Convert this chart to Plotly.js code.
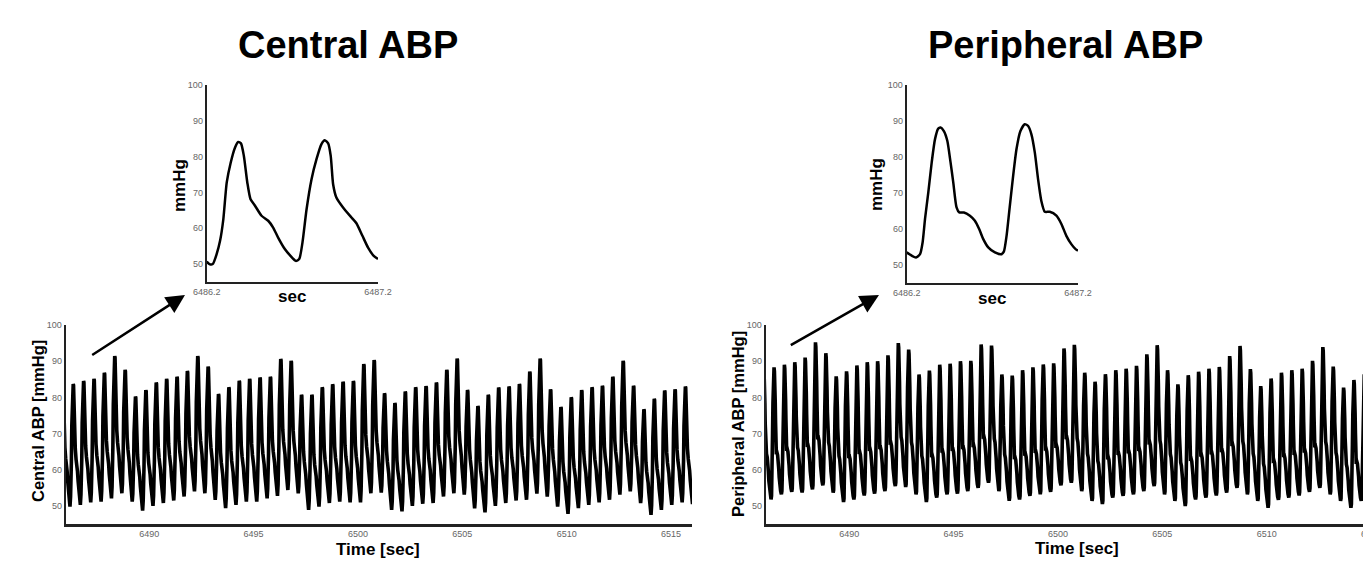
<!DOCTYPE html>
<html><head><meta charset="utf-8">
<script src="https://cdn.plot.ly/plotly-3.0.1.min.js"></script>
<style>html,body{margin:0;padding:0;overflow:hidden;background:#fff}#chart{width:1400px;height:567px}</style>
</head><body><div id="chart"></div>
<script>
// ---------- data ----------
// Insets: one second of waveform (time [sec], pressure [mmHg])
const centralInsetTime = [6486.200,6486.216,6486.235,6486.258,6486.278,6486.297,6486.317,6486.340,6486.365,6486.384,6486.400,6486.417,6486.437,6486.456,6486.482,6486.520,6486.559,6486.588,6486.617,6486.656,6486.689,6486.720,6486.740,6486.759,6486.783,6486.812,6486.841,6486.870,6486.889,6486.909,6486.924,6486.938,6486.957,6486.996,6487.045,6487.074,6487.109,6487.142,6487.175,6487.200];
const centralInsetABP  = [50.7,50.0,50.0,52.8,56.5,62.5,72.8,78.3,82.5,84.1,83.7,80.2,72.8,68.1,66.3,63.5,62.1,60.2,57.4,54.2,52.3,50.9,51.4,56.0,65.3,73.7,79.3,83.5,84.6,83.7,80.2,72.3,68.6,65.8,63.0,61.4,57.9,54.6,52.3,51.4];
const periInsetTime = [6486.200,6486.229,6486.254,6486.278,6486.293,6486.307,6486.326,6486.346,6486.365,6486.384,6486.398,6486.417,6486.437,6486.456,6486.472,6486.491,6486.507,6486.534,6486.569,6486.598,6486.623,6486.647,6486.676,6486.715,6486.753,6486.767,6486.783,6486.798,6486.817,6486.841,6486.864,6486.889,6486.909,6486.928,6486.948,6486.967,6486.986,6487.006,6487.035,6487.074,6487.103,6487.132,6487.161,6487.186,6487.200];
const periInsetABP  = [53.5,52.6,52.1,53.0,56.3,62.8,70.1,78.5,84.9,87.9,88.2,87.2,84.5,78.5,72.9,66.0,64.6,64.6,63.7,62.3,60.0,57.2,54.9,53.5,53.0,53.7,58.1,64.6,72.9,82.2,87.2,89.1,88.6,86.3,81.2,73.8,67.8,64.8,64.8,63.7,61.4,58.1,55.8,54.4,54.0];

// Beat shape (fraction of beat, normalised level) taken from one inset beat
const centralBeatPhase = [0,0.057,0.097,0.135,0.176,0.222,0.273,0.311,0.343,0.378,0.418,0.457,0.509,0.586,0.665,0.723,0.782,0.861,0.927,1];
const centralBeatShape = [0,0.08,0.19,0.36,0.66,0.82,0.95,1,0.99,0.88,0.66,0.52,0.47,0.38,0.34,0.28,0.2,0.1,0.04,0];
const periBeatPhase = [0,0.048,0.078,0.106,0.144,0.184,0.222,0.261,0.289,0.327,0.367,0.405,0.437,0.475,0.507,0.561,0.631,0.689,0.739,0.788,0.846,0.924,1];
const periBeatShape = [0,0.025,0.115,0.295,0.495,0.73,0.91,0.99,1,0.97,0.895,0.73,0.575,0.385,0.345,0.345,0.32,0.28,0.215,0.14,0.075,0.03,0];

// Main records: beat timing and per-beat systolic / diastolic values [mmHg]
const centralFirstBeat = 6486.205, centralBeatPeriod = 0.497;
const centralSystolic = [84,
  83.7,84.5,85.1,86.8,91.4,87.6,80.2,82.0,84.1,85.1,85.7,87.3,91.4,88.5,80.9,82.8,84.6,85.1,85.5,85.7,90.6,90.1,80.7,80.7,82.8,83.6,
  84.3,84.5,89.2,90.3,81.1,78.4,81.6,82.8,83.1,84.1,87.6,90.7,82.0,77.6,80.7,82.7,83.0,83.7,87.1,90.7,82.2,77.3,80.0,82.0,82.8,83.2,85.7,90.1,83.2,76.7,79.6,81.9,82.2,83.0];
const centralDiastolic = [51,
  49.8,50.3,51.0,51.2,52.1,53.5,51.2,48.7,50.0,50.8,51.5,52.6,54.0,53.5,51.7,49.4,50.3,51.2,51.2,52.1,52.8,54.4,53.5,48.9,49.8,50.8,51.2,51.0,
  51.0,53.5,53.7,48.9,48.5,50.0,50.6,50.8,52.6,53.5,53.1,49.3,48.2,50.0,50.8,51.5,51.7,53.4,52.6,49.8,47.8,49.4,50.3,51.0,51.7,53.1,54.0,50.8,47.5,48.9,50.3,51.0,
  50.5];
const periFirstBeat = 6486.256, periBeatPeriod = 0.496;
const periSystolic = [88,
  88.3,89.0,89.7,91.0,95.2,92.2,85.8,87.2,88.8,89.7,90.0,91.6,95.0,93.2,86.3,87.4,89.0,89.3,90.0,90.1,94.6,94.3,86.3,86.0,87.5,88.3,
  89.1,89.4,93.5,94.5,86.8,84.3,86.4,87.5,87.9,88.7,91.9,94.4,87.5,83.6,86.1,87.1,87.9,88.4,91.4,94.2,87.8,83.1,85.2,86.8,87.5,87.9,90.1,93.9,88.5,82.7,84.8,86.4,
  87.0,87.5];
const periDiastolic = [52,
  51.8,53.2,53.9,53.7,54.6,55.7,53.7,51.1,51.8,52.9,53.4,54.1,55.5,55.2,53.2,51.1,52.3,53.2,53.4,54.1,55.0,56.4,54.1,51.4,51.8,52.8,
  53.2,53.9,55.7,56.4,54.1,51.4,50.5,52.3,52.8,53.2,54.1,55.5,53.2,51.4,50.0,51.8,52.3,52.9,53.7,55.0,53.2,51.4,49.5,51.7,52.3,52.9,53.9,55.0,53.2,51.4,49.5,51.4,
  52.5,53.0,53.5];

const mainYTicks = [50,60,70,80,90,100];
const mainXTicks = [6490,6495,6500,6505,6510,6515];
const insetXTicks = [6486.2,6487.2];
const insetXLabels = ['6486.2','6487.2'];

// ---------- build records from the beat values ----------
function buildRecord(first, period, sys, dia, phase, shape){
  const t=[], y=[];
  for(let i=0;i<sys.length;i++){
    const t0 = first + (i-1)*period;
    for(let k=0;k<phase.length;k++){
      if(k===phase.length-1 && i<sys.length-1) continue;
      const base = dia[i] + (dia[i+1]-dia[i])*phase[k];
      t.push(t0 + phase[k]*period);
      y.push(base + (sys[i]-base)*shape[k]);
    }
  }
  return {t, y};
}
const central = buildRecord(centralFirstBeat, centralBeatPeriod, centralSystolic, centralDiastolic, centralBeatPhase, centralBeatShape);
const peri = buildRecord(periFirstBeat, periBeatPeriod, periSystolic, periDiastolic, periBeatPhase, periBeatShape);

// ---------- layout ----------
const W = 1400, H = 567;
const px = v => v / W, py = v => 1 - v / H;
const FONT = 'Liberation Sans, Arial, Helvetica, sans-serif';
const tickFont = {family: FONT, size: 9, color: '#666'};

const traces = [
  {x: central.t, y: central.y, xaxis:'x', yaxis:'y', mode:'lines', line:{color:'#000', width:3.6}, hoverinfo:'skip'},
  {x: peri.t, y: peri.y, xaxis:'x2', yaxis:'y2', mode:'lines', line:{color:'#000', width:3.6}, hoverinfo:'skip'},
  {x: centralInsetTime, y: centralInsetABP, xaxis:'x3', yaxis:'y3', mode:'lines', line:{color:'#000', width:2.5, shape:'spline', smoothing:0.6}, hoverinfo:'skip'},
  {x: periInsetTime, y: periInsetABP, xaxis:'x4', yaxis:'y4', mode:'lines', line:{color:'#000', width:2.5, shape:'spline', smoothing:0.6}, hoverinfo:'skip'}
];

function xax(domain, range, tickvals, ticktext, lw){
  const a = {domain, range, tickvals, showgrid:false, zeroline:false, showline:true, linecolor:'#222', linewidth:lw,
    ticks:'', tickfont:tickFont, fixedrange:true};
  if(ticktext) a.ticktext = ticktext;
  return a;
}
function yax(domain, lw){
  return {domain, range:[45,100], tickvals: mainYTicks, showgrid:false, zeroline:false, showline:true, linecolor:'#222',
    linewidth:lw, ticks:'', tickfont:tickFont, fixedrange:true};
}

const layout = {
  width: W, height: H, margin:{l:0,r:0,t:0,b:0}, paper_bgcolor:'#fff', plot_bgcolor:'rgba(0,0,0,0)', showlegend:false,
  xaxis: Object.assign(xax([px(65.7), px(692)], [6486, 6516], mainXTicks, null, 2.5), {anchor:'y'}),
  yaxis: Object.assign(yax([py(524), py(325)], 2), {anchor:'x'}),
  xaxis2: Object.assign(xax([px(765.7), px(1392)], [6486, 6516], mainXTicks, null, 2.5), {anchor:'y2'}),
  yaxis2: Object.assign(yax([py(524), py(325)], 2), {anchor:'x2'}),
  xaxis3: Object.assign(xax([px(206.7), px(378)], [6486.2, 6487.2], insetXTicks, insetXLabels, 2), {anchor:'y3'}),
  yaxis3: Object.assign(yax([py(282), py(85)], 2), {anchor:'x3'}),
  xaxis4: Object.assign(xax([px(906.7), px(1078)], [6486.2, 6487.2], insetXTicks, insetXLabels, 2), {anchor:'y4'}),
  yaxis4: Object.assign(yax([py(283), py(85)], 2), {anchor:'x4'}),
  annotations: [
    {text:'<b>Central ABP</b>', x:px(348), y:py(45), xref:'paper', yref:'paper', showarrow:false, xanchor:'center', yanchor:'middle', font:{family:FONT, size:38, color:'#000'}},
    {text:'<b>Peripheral ABP</b>', x:px(1065), y:py(45), xref:'paper', yref:'paper', showarrow:false, xanchor:'center', yanchor:'middle', font:{family:FONT, size:38, color:'#000'}},
    {text:'<b>Time [sec]</b>', x:px(378), y:py(549), xref:'paper', yref:'paper', showarrow:false, xanchor:'center', yanchor:'middle', font:{family:FONT, size:17, color:'#000'}},
    {text:'<b>Time [sec]</b>', x:px(1077), y:py(548), xref:'paper', yref:'paper', showarrow:false, xanchor:'center', yanchor:'middle', font:{family:FONT, size:17, color:'#000'}},
    {text:'<b>Central ABP [mmHg]</b>', x:px(38), y:py(421), xref:'paper', yref:'paper', showarrow:false, textangle:-90, xanchor:'center', yanchor:'middle', font:{family:FONT, size:16.5, color:'#000'}},
    {text:'<b>Peripheral ABP [mmHg]</b>', x:px(738), y:py(424), xref:'paper', yref:'paper', showarrow:false, textangle:-90, xanchor:'center', yanchor:'middle', font:{family:FONT, size:16.5, color:'#000'}},
    {text:'<b>mmHg</b>', x:px(180), y:py(185), xref:'paper', yref:'paper', showarrow:false, textangle:-90, xanchor:'center', yanchor:'middle', font:{family:FONT, size:17, color:'#000'}},
    {text:'<b>mmHg</b>', x:px(876), y:py(184), xref:'paper', yref:'paper', showarrow:false, textangle:-90, xanchor:'center', yanchor:'middle', font:{family:FONT, size:17, color:'#000'}},
    {text:'<b>sec</b>', x:px(292), y:py(296), xref:'paper', yref:'paper', showarrow:false, xanchor:'center', yanchor:'middle', font:{family:FONT, size:17, color:'#000'}},
    {text:'<b>sec</b>', x:px(992), y:py(298), xref:'paper', yref:'paper', showarrow:false, xanchor:'center', yanchor:'middle', font:{family:FONT, size:17, color:'#000'}},
    {text:'', x:px(185), y:py(295), xref:'paper', yref:'paper', showarrow:true, ax:-94.3, ay:61, arrowhead:2, arrowsize:1.5, arrowwidth:2.5, arrowcolor:'#000'},
    {text:'', x:px(879), y:py(295), xref:'paper', yref:'paper', showarrow:true, ax:-89.7, ay:51, arrowhead:2, arrowsize:1.5, arrowwidth:2.5, arrowcolor:'#000'}
  ]
};

Plotly.newPlot('chart', traces, layout, {staticPlot:true, displayModeBar:false});
</script></body></html>
